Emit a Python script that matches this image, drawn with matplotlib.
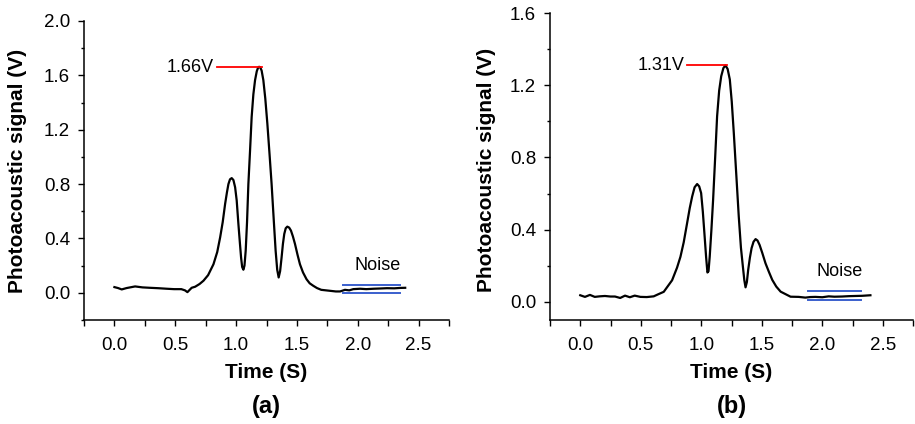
import matplotlib
matplotlib.use("Agg")
import matplotlib.pyplot as plt
from matplotlib.ticker import MultipleLocator, FormatStrFormatter

plt.rcParams['font.family'] = ['Liberation Sans', 'DejaVu Sans']

# ---- Panel (a) data ----
t_a = [0.00, 0.03, 0.06, 0.10, 0.17, 0.23, 0.29, 0.36, 0.43, 0.49, 0.55, 0.58, 0.60,
       0.635, 0.664, 0.70, 0.732, 0.77, 0.814, 0.845, 0.869, 0.89, 0.91, 0.925, 0.937,
       0.95, 0.964, 0.978, 0.992, 1.005, 1.019, 1.031, 1.041, 1.05, 1.06, 1.069, 1.079,
       1.09, 1.101, 1.115, 1.128, 1.142, 1.156, 1.17, 1.18, 1.189, 1.198, 1.21, 1.224,
       1.24, 1.257, 1.275, 1.292, 1.31, 1.325, 1.338, 1.35, 1.362, 1.374, 1.385, 1.396,
       1.408, 1.421, 1.436, 1.451, 1.467, 1.484, 1.505, 1.525, 1.55, 1.579, 1.605, 1.634,
       1.665, 1.70, 1.77, 1.82, 1.855, 1.895, 1.93, 1.963, 2.02, 2.07, 2.13, 2.19, 2.24,
       2.30, 2.35, 2.39]
v_a = [0.042, 0.035, 0.025, 0.035, 0.047, 0.040, 0.037, 0.034, 0.030, 0.027, 0.027, 0.018,
       0.005, 0.037, 0.045, 0.065, 0.089, 0.13, 0.21, 0.30, 0.408, 0.52, 0.655, 0.74, 0.80,
       0.835, 0.844, 0.83, 0.777, 0.68, 0.507, 0.37, 0.26, 0.19, 0.17, 0.20, 0.31,
       0.52, 0.80, 1.05, 1.294, 1.46, 1.565, 1.63, 1.655, 1.663, 1.66, 1.635, 1.565,
       1.43, 1.245, 1.02, 0.80, 0.53, 0.31, 0.17, 0.113, 0.16, 0.26, 0.36, 0.433,
       0.475, 0.487, 0.48, 0.458, 0.415, 0.36, 0.28, 0.21, 0.15, 0.10, 0.07, 0.052,
       0.035, 0.022, 0.015, 0.010, 0.010, 0.022, 0.018, 0.027, 0.030, 0.027, 0.030, 0.032,
       0.034, 0.033, 0.036, 0.037]
peak_a = 1.66
peak_a_x = [0.846, 1.216]
noise_a_x = [1.88, 2.347]
noise_a_y = [0.061, -0.005]

# ---- Panel (b) data ----
t_b = [0.00, 0.039, 0.08, 0.12, 0.16, 0.204, 0.25, 0.287, 0.33, 0.37, 0.41, 0.45, 0.497,
       0.55, 0.607, 0.646, 0.69, 0.759, 0.80, 0.828, 0.855, 0.883, 0.905, 0.925, 0.945,
       0.966, 0.983, 0.999, 1.013, 1.026, 1.04, 1.051, 1.06, 1.07, 1.084, 1.098, 1.115,
       1.131, 1.148, 1.165, 1.183, 1.20, 1.218, 1.236, 1.252, 1.269, 1.29, 1.31, 1.328,
       1.344, 1.356, 1.366, 1.377, 1.388, 1.402, 1.416, 1.432, 1.449, 1.465, 1.482,
       1.505, 1.531, 1.56, 1.587, 1.62, 1.656, 1.738, 1.805, 1.86, 1.90, 1.943, 2.00,
       2.053, 2.10, 2.163, 2.22, 2.274, 2.33, 2.398]
v_b = [0.037, 0.028, 0.039, 0.028, 0.031, 0.033, 0.030, 0.030, 0.022, 0.035, 0.026, 0.035,
       0.028, 0.027, 0.031, 0.043, 0.056, 0.12, 0.19, 0.25, 0.33, 0.436, 0.52, 0.584, 0.635,
       0.653, 0.64, 0.603, 0.50, 0.381, 0.25, 0.163, 0.17, 0.251, 0.40, 0.566, 0.80,
       1.028, 1.17, 1.25, 1.295, 1.31, 1.29, 1.232, 1.11, 0.936, 0.70, 0.473, 0.30,
       0.196, 0.12, 0.081, 0.11, 0.178, 0.245, 0.298, 0.333, 0.348, 0.34, 0.316,
       0.27, 0.214, 0.165, 0.122, 0.085, 0.057, 0.029, 0.028, 0.024, 0.027, 0.028, 0.026,
       0.031, 0.029, 0.030, 0.032, 0.033, 0.034, 0.037]
peak_b = 1.31
peak_b_x = [0.88, 1.211]
noise_b_x = [1.879, 2.323]
noise_b_y = [0.061, 0.009]

W, H = 915, 424
fig = plt.figure(figsize=(W / 100, H / 100), dpi=100)


def axes_px(l, r, t, b):
    return fig.add_axes([l / W, (H - b) / H, (r - l) / W, (b - t) / H])


def style(ax, ylim, ymajor):
    ax.set_xlim(-0.25, 2.75)
    ax.set_ylim(*ylim)
    for s in ['top', 'right']:
        ax.spines[s].set_visible(False)
    for s in ['left', 'bottom']:
        ax.spines[s].set_linewidth(1.1)
    ax.xaxis.set_major_locator(MultipleLocator(0.5))
    ax.xaxis.set_minor_locator(MultipleLocator(0.25))
    ax.yaxis.set_major_locator(MultipleLocator(ymajor))
    ax.yaxis.set_minor_locator(MultipleLocator(ymajor / 2))
    ax.tick_params(which='major', direction='out', length=4, width=1.0,
                   labelsize=13.5)
    ax.tick_params(axis='y', which='major', pad=6)
    ax.tick_params(axis='x', which='major', pad=8)
    ax.tick_params(which='minor', direction='out', length=2, width=1.0)
    ax.tick_params(axis='x', which='minor', length=4)
    ax.xaxis.set_major_formatter(FormatStrFormatter('%.1f'))
    ax.yaxis.set_major_formatter(FormatStrFormatter('%.1f'))


# Panel (a)
ax1 = axes_px(84, 449, 21, 320)
style(ax1, (-0.2, 2.0), 0.4)
ax1.plot(t_a, v_a, color='black', lw=1.6)
ax1.plot(peak_a_x, [peak_a, peak_a], color='red', lw=1.3)
for y in noise_a_y:
    ax1.plot(noise_a_x, [y, y], color='#3a5fcd', lw=1.4)
ax1.text(peak_a_x[0] - 0.03, peak_a, '1.66V', ha='right', va='center', fontsize=13)
ax1.text(2.16, 0.20, 'Noise', ha='center', va='center', fontsize=13)

# Panel (b)
ax2 = axes_px(550, 913, 13, 320)
style(ax2, (-0.1, 1.6), 0.4)
ax2.plot(t_b, v_b, color='black', lw=1.6)
ax2.plot(peak_b_x, [peak_b, peak_b], color='red', lw=1.3)
for y in noise_b_y:
    ax2.plot(noise_b_x, [y, y], color='#3a5fcd', lw=1.4)
ax2.text(peak_b_x[0] - 0.02, peak_b, '1.31V', ha='right', va='center', fontsize=13)
ax2.text(2.14, 0.17, 'Noise', ha='center', va='center', fontsize=13)

# Labels
for xc, lbl in [(266.5, '(a)'), (731.5, '(b)')]:
    fig.text(xc / W, 1 - 372 / H, 'Time (S)', ha='center', va='center',
             fontsize=15, fontweight='bold')
    fig.text(xc / W, 1 - 407 / H, lbl, ha='center', va='center',
             fontsize=17, fontweight='bold')
fig.text(18 / W, 1 - 171 / H, 'Photoacoustic signal (V)', ha='center', va='center',
         rotation=90, fontsize=15, fontweight='bold')
fig.text(487 / W, 1 - 170 / H, 'Photoacoustic signal (V)', ha='center', va='center',
         rotation=90, fontsize=15, fontweight='bold')

fig.savefig('out.png', dpi=100)
